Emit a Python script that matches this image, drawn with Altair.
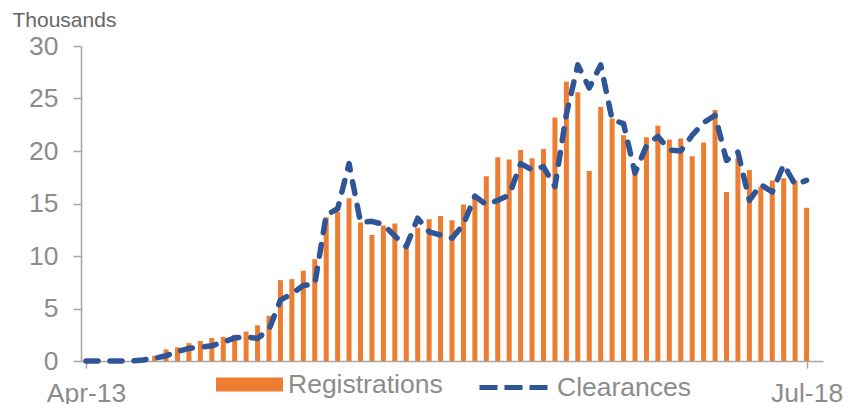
import altair as alt
import pandas as pd

# Monthly data, Apr-13 .. Jul-18 (64 months), thousands
registrations = [
    0, 0, 0, 0, 0, 0, 0.5, 1.1, 1.3, 1.7,
    1.9, 2.2, 2.3, 2.5, 2.8, 3.4, 4.3, 7.7, 7.8, 8.6,
    9.7, 13.7, 14.2, 15.5, 13.2, 12.0, 12.9, 13.1, 10.8, 12.7,
    13.5, 13.8, 13.4, 14.9, 15.7, 17.6, 19.4, 19.2, 20.1, 19.3,
    20.2, 23.2, 26.6, 25.6, 18.1, 24.2, 23.1, 21.5, 17.9, 21.3,
    22.4, 21.1, 21.2, 19.5, 20.8, 23.9, 16.1, 19.3, 18.2, 16.6,
    17.2, 17.4, 17.2, 14.6,
]
clearances = [
    0, 0, 0, 0, 0, 0.1, 0.26, 0.5, 0.9, 1.2,
    1.3, 1.45, 1.8, 2.2, 2.3, 2.15, 3.0, 5.8, 6.4, 7.2,
    7.3, 13.9, 14.5, 18.8, 13.2, 13.3, 13.0, 11.9, 10.9, 13.6,
    12.3, 12.0, 11.7, 13.0, 15.7, 14.9, 15.3, 15.8, 18.8, 18.2,
    18.5, 16.6, 23.5, 28.2, 26.0, 28.2, 23.0, 22.6, 17.9, 20.5,
    21.4, 20.1, 20.0, 21.5, 22.7, 23.4, 19.1, 19.9, 15.3, 16.8,
    16.1, 18.7, 16.8, 17.2,
]
x_tick_positions = [0, 63]
x_tick_labels = ["Apr-13", "Jul-18"]
y_ticks = [0, 5, 10, 15, 20, 25, 30]

GREY_TXT = "#8c8c8c"
GREY_LINE = "#a6a6a6"
ORANGE = "#ED7D31"
BLUE = "#2F5597"
FONT = "Liberation Sans"
FS = 26.5

bars_df = pd.DataFrame({
    "idx": list(range(len(registrations))),
    "value": registrations,
    "series": "Registrations",
})
line_df = pd.DataFrame({
    "idx": list(range(len(clearances))),
    "value": clearances,
    "series": "Clearances",
})

label_expr = (
    f"datum.value == {x_tick_positions[0]} ? '{x_tick_labels[0]}' : "
    f"(datum.value == {x_tick_positions[1]} ? '{x_tick_labels[1]}' : '')"
)

x_enc = alt.X(
    "idx:Q",
    scale=alt.Scale(domain=[0, 64], nice=False, zero=False),
    axis=alt.Axis(
        values=x_tick_positions,
        labelExpr=label_expr,
        title=None,
        grid=False,
        domainColor=GREY_LINE,
        domainWidth=1.5,
        tickColor=GREY_LINE,
        tickWidth=1.5,
        tickSize=7,
        labelColor=GREY_TXT,
        labelFont=FONT,
        labelFontSize=FS,
        labelPadding=12,
        labelAlign="center",
        labelFlush=False,
        labelOverlap=False,
        labelBound=False,
    ),
)

y_enc = alt.Y(
    "value:Q",
    scale=alt.Scale(domain=[0, 30], nice=False),
    axis=alt.Axis(
        values=y_ticks,
        title="Thousands",
        titleAngle=0,
        titleAlign="left",
        titleBaseline="alphabetic",
        titleX=-69,
        titleY=-20,
        titleColor="#666666",
        titleFont=FONT,
        titleFontSize=21,
        titleFontWeight="normal",
        grid=False,
        domainColor=GREY_LINE,
        domainWidth=1.5,
        tickColor=GREY_LINE,
        tickWidth=1.5,
        tickSize=8,
        labelColor=GREY_TXT,
        labelFont=FONT,
        labelFontSize=FS,
        labelPadding=15,
    ),
)

bars = alt.Chart(bars_df).mark_bar(size=5).encode(
    x=x_enc,
    y=y_enc,
    fill=alt.Fill(
        "series:N",
        scale=alt.Scale(domain=["Registrations"], range=[ORANGE]),
        legend=alt.Legend(
            title=None,
            orient="none",
            legendX=135,
            legendY=305,
            padding=0,
            symbolType="M-1,-0.21L1,-0.21L1,0.21L-1,0.21Z",
            symbolSize=4489,
            symbolStrokeWidth=0,
            labelOffset=5,
            labelFont=FONT,
            labelFontSize=FS,
            labelColor=GREY_TXT,
            labelLimit=400,
        ),
    ),
)

line = alt.Chart(line_df).mark_line(
    strokeWidth=5.5, strokeDash=[12, 12], strokeCap="round", strokeJoin="round"
).encode(
    x="idx:Q",
    y="value:Q",
    stroke=alt.Stroke(
        "series:N",
        scale=alt.Scale(domain=["Clearances"], range=[BLUE]),
        legend=alt.Legend(
            title=None,
            orient="none",
            legendX=396,
            legendY=305,
            padding=0,
            symbolType="stroke",
            symbolSize=4624,
            symbolStrokeWidth=5,
            symbolDash=[18, 7],
            labelOffset=7,
            labelFont=FONT,
            labelFontSize=FS,
            labelColor=GREY_TXT,
            labelLimit=400,
        ),
    ),
)

chart = alt.layer(bars, line).properties(
    width=742,
    height=315,
    autosize=alt.AutoSizeParams(type="none"),
    padding={"left": 73, "top": 38, "right": 21, "bottom": 45},
).configure_view(stroke=None, strokeWidth=0)

chart.save("out.html", embed_options={"renderer": "svg", "actions": False})
